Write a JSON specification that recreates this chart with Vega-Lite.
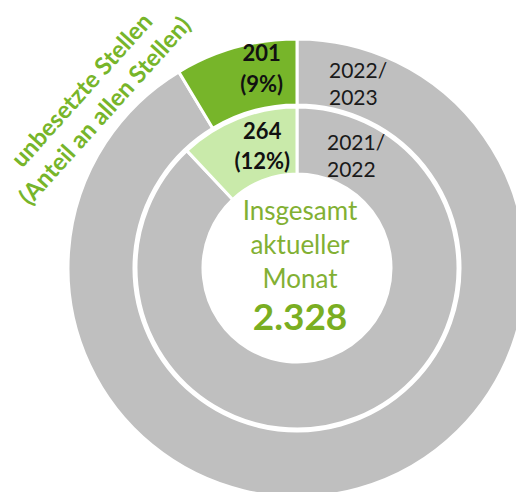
{
  "$schema": "https://vega.github.io/schema/vega-lite/v6.json",
  "width": 438,
  "height": 448,
  "autosize": "none",
  "padding": {"left": 78, "top": 44, "right": 0, "bottom": 0},
  "background": "white",
  "config": {"view": {"stroke": null}, "font": "Lato"},
  "datasets": {
    "rings": [
      {"ring": "2022/2023", "kategorie": "besetzt", "stellen": 2127, "ord": 1, "label": ""},
      {"ring": "2022/2023", "kategorie": "unbesetzt 2022/2023", "stellen": 201, "ord": 2, "label": "201\n(9%)"},
      {"ring": "2021/2022", "kategorie": "besetzt", "stellen": 1936, "ord": 1, "label": ""},
      {"ring": "2021/2022", "kategorie": "unbesetzt 2021/2022", "stellen": 264, "ord": 2, "label": "264\n(12%)"}
    ],
    "notes": [
      {"text": "Insgesamt\naktueller\nMonat", "total": "2.328", "title": "unbesetzte Stellen\n(Anteil an allen Stellen)", "outer": "2022/\n2023", "inner": "2021/\n2022"}
    ]
  },
  "layer": [
    {
      "data": {"name": "rings"},
      "transform": [{"filter": "datum.ring === '2022/2023'"}],
      "encoding": {
        "theta": {"field": "stellen", "type": "quantitative", "stack": true},
        "order": {"field": "ord", "type": "quantitative"}
      },
      "layer": [
        {
          "mark": {"type": "arc", "radius": 229, "radius2": 163, "stroke": "white", "strokeWidth": 3},
          "encoding": {
            "color": {"field": "kategorie", "type": "nominal", "legend": null,
              "scale": {"domain": ["besetzt", "unbesetzt 2022/2023", "unbesetzt 2021/2022"], "range": ["#BFBFBF", "#77B52A", "#C9EAAA"]}}
          }
        },
        {
          "mark": {"type": "text", "radius": 203, "dx": 19, "dy": -18, "lineBreak": "\n", "lineHeight": 31, "fontSize": 22, "fontWeight": "bold", "color": "#111111", "baseline": "middle", "align": "center"},
          "encoding": {"text": {"field": "label"}}
        }
      ]
    },
    {
      "data": {"name": "rings"},
      "transform": [{"filter": "datum.ring === '2021/2022'"}],
      "encoding": {
        "theta": {"field": "stellen", "type": "quantitative", "stack": true},
        "order": {"field": "ord", "type": "quantitative"}
      },
      "layer": [
        {
          "mark": {"type": "arc", "radius": 161, "radius2": 94, "stroke": "white", "strokeWidth": 3},
          "encoding": {
            "color": {"field": "kategorie", "type": "nominal", "legend": null}
          }
        },
        {
          "mark": {"type": "text", "radius": 127, "dx": 12, "dy": -18, "lineBreak": "\n", "lineHeight": 30, "fontSize": 22, "fontWeight": "bold", "color": "#111111", "baseline": "middle", "align": "center"},
          "encoding": {"text": {"field": "label"}}
        }
      ]
    },
    {
      "data": {"name": "notes"},
      "mark": {"type": "text", "lineBreak": "\n", "lineHeight": 34, "fontSize": 26, "color": "#82B033", "baseline": "middle", "align": "center", "dx": 3, "dy": -56},
      "encoding": {"text": {"field": "text"}}
    },
    {
      "data": {"name": "notes"},
      "mark": {"type": "text", "fontSize": 37, "fontWeight": "bold", "color": "#7AAE22", "baseline": "middle", "align": "center", "dx": 3, "dy": 51},
      "encoding": {"text": {"field": "total"}}
    },
    {
      "data": {"name": "notes"},
      "mark": {"type": "text", "lineBreak": "\n", "lineHeight": 27, "fontSize": 21, "color": "#1a1a1a", "baseline": "middle", "align": "left", "dx": 32, "dy": -196},
      "encoding": {"text": {"field": "outer"}}
    },
    {
      "data": {"name": "notes"},
      "mark": {"type": "text", "lineBreak": "\n", "lineHeight": 27, "fontSize": 21, "color": "#1a1a1a", "baseline": "middle", "align": "left", "dx": 30, "dy": -124},
      "encoding": {"text": {"field": "inner"}}
    },
    {
      "data": {"name": "notes"},
      "mark": {"type": "text", "lineBreak": "\n", "lineHeight": 31, "fontSize": 24, "fontWeight": "bold", "color": "#77B52A", "baseline": "middle", "align": "center", "angle": -48, "theta": 5.403, "radius": 278},
      "encoding": {"text": {"field": "title"}}
    }
  ],
  "resolve": {"scale": {"theta": "independent"}}
}
